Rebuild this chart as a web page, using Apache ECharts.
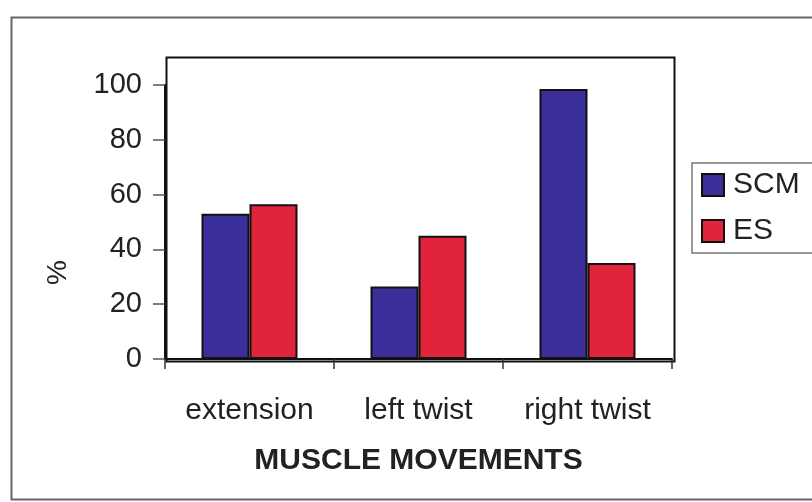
<!DOCTYPE html>
<html>
<head>
<meta charset="utf-8">
<script src="https://cdn.jsdelivr.net/npm/echarts@6/dist/echarts.min.js"></script>
<style>
html,body{margin:0;padding:0;background:#fff;}
#c{width:812px;height:502px;}
</style>
</head>
<body>
<div id="c"></div>
<script>
const categories = ['extension', 'left twist', 'right twist'];
const scmValues = [53, 26.5, 98.5];
const esValues = [56.5, 45, 35];
const seriesNames = ['SCM', 'ES'];
const yTicks = { min: 0, max: 100, interval: 20 };
const xTitle = 'MUSCLE MOVEMENTS';
const yTitle = '%';

const chart = echarts.init(document.getElementById('c'));
const FONT = '"Liberation Sans", Arial, sans-serif';
chart.setOption({
  backgroundColor: '#fff',
  animation: false,
  grid: { left: 165, right: 140, top: 85, bottom: 143, containLabel: false },
  legend: {
    orient: 'vertical',
    left: 692, top: 163,
    padding: [7, 20, 7, 9],
    itemWidth: 22, itemHeight: 22, itemGap: 16,
    borderColor: '#777', borderWidth: 1.5,
    icon: 'rect',
    textStyle: { fontFamily: FONT, fontSize: 30, color: '#222', padding: [0, 0, 0, 4] },
    data: seriesNames
  },
  xAxis: {
    type: 'category',
    data: categories,
    axisLine: { lineStyle: { color: '#111', width: 2 } },
    axisTick: { show: true, length: 10, lineStyle: { color: '#333', width: 1.5 } },
    axisLabel: { fontFamily: FONT, fontSize: 30, color: '#222', margin: 37 },
    name: xTitle,
    nameLocation: 'middle',
    nameGap: 87,
    nameTextStyle: { fontFamily: FONT, fontSize: 30, fontWeight: 'bold', color: '#222' }
  },
  yAxis: {
    type: 'value',
    min: yTicks.min, max: yTicks.max, interval: yTicks.interval,
    splitLine: { show: false },
    axisLine: { show: true, lineStyle: { color: '#111', width: 2 } },
    axisTick: { show: true, length: 12, lineStyle: { color: '#555', width: 1.5 } },
    axisLabel: { fontFamily: FONT, fontSize: 29, color: '#222', margin: 23 }
  },
  graphic: [
    { type: 'rect', left: 9, top: 15, shape: { width: 812, height: 482 },
      style: { fill: 'none', stroke: '#666', lineWidth: 2 }, z: -1 },
    { type: 'rect', left: 164, top: 55, shape: { width: 508, height: 304 },
      style: { fill: 'none', stroke: '#111', lineWidth: 2 }, z: 0 },
    { type: 'text', left: 44, top: 260, rotation: Math.PI / 2,
      style: { text: yTitle, font: 'normal 28px "Liberation Sans", Arial, sans-serif', fill: '#222' } }
  ],
  series: [
    { name: seriesNames[0], type: 'bar', data: scmValues, barWidth: 48, barGap: '0%',
      itemStyle: { color: '#3a2e9b', borderColor: '#111', borderWidth: 2 } },
    { name: seriesNames[1], type: 'bar', data: esValues, barWidth: 48, barGap: '0%',
      itemStyle: { color: '#e1243c', borderColor: '#111', borderWidth: 2 } }
  ]
});
</script>
</body>
</html>
